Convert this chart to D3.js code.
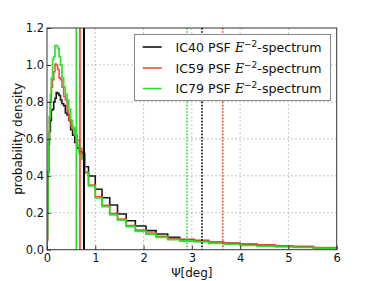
<!DOCTYPE html>
<html><head><meta charset="utf-8">
<script src="https://cdn.jsdelivr.net/npm/d3@7"></script>
<style>body{margin:0;background:#fff}svg{display:block}text{font-family:"DejaVu Sans",sans-serif}</style>
</head><body><svg id="c" width="374" height="281"></svg>
<script>
// bin edges (deg)
const binEdges = [0, 0.01, 0.02, 0.035, 0.05, 0.07, 0.09, 0.115, 0.14, 0.165, 0.19, 0.22, 0.25, 0.28, 0.31, 0.345, 0.38, 0.415, 0.45, 0.49, 0.53, 0.575, 0.62, 0.67, 0.72, 0.78, 0.86, 1.0, 1.14, 1.30, 1.46, 1.64, 1.83, 2.05, 2.26, 2.50, 2.75, 3.05, 3.35, 3.66, 4.0, 4.35, 4.73, 5.1, 5.52, 6.0];
const ic40 = [0.05, 0.22, 0.42, 0.57, 0.64, 0.70, 0.755, 0.76, 0.80, 0.82, 0.85, 0.845, 0.835, 0.81, 0.79, 0.78, 0.74, 0.73, 0.70, 0.65, 0.62, 0.58, 0.55, 0.53, 0.52, 0.449, 0.399, 0.327, 0.281, 0.242, 0.193, 0.157, 0.128, 0.103, 0.085, 0.067, 0.055, 0.05, 0.040, 0.035, 0.029, 0.024, 0.019, 0.016, 0.01];
const ic59 = [0.06, 0.25, 0.42, 0.6, 0.72, 0.80, 0.88, 0.92, 0.963, 1.005, 1.0, 0.975, 0.93, 0.92, 0.88, 0.83, 0.81, 0.75, 0.70, 0.67, 0.65, 0.62, 0.594, 0.549, 0.50, 0.42, 0.35, 0.287, 0.24, 0.196, 0.166, 0.131, 0.106, 0.09, 0.072, 0.06, 0.055, 0.05, 0.041, 0.036, 0.03, 0.026, 0.021, 0.018, 0.012];
const ic79 = [0.07, 0.2, 0.41, 0.6, 0.72, 0.84, 0.93, 1.03, 1.045, 1.104, 1.104, 1.09, 1.045, 1.0, 0.93, 0.88, 0.84, 0.81, 0.76, 0.70, 0.66, 0.62, 0.56, 0.52, 0.49, 0.414, 0.345, 0.281, 0.233, 0.188, 0.16, 0.125, 0.10, 0.085, 0.067, 0.055, 0.047, 0.043, 0.035, 0.03, 0.023, 0.019, 0.016, 0.013, 0.009];
const seriesNames = ["IC40", "IC59", "IC79"];
const seriesColors = ["#000000", "#e8442a", "#22e022"];
const medians = [0.766, 0.683, 0.607];      // solid vertical lines
const quantiles = [3.21, 3.64, 2.9];        // dotted vertical lines
const xTicks = [0, 1, 2, 3, 4, 5, 6];
const yTicks = [0.0, 0.2, 0.4, 0.6, 0.8, 1.0, 1.2];

const L = 47, T = 28, R = 336.7, B = 249.7;
const svg = d3.select("#c");
const x = d3.scaleLinear([0, 6], [L, R]);
const y = d3.scaleLinear([0, 1.2], [B, T]);

svg.append("defs").append("clipPath").attr("id", "clip")
  .append("rect").attr("x", L).attr("y", T).attr("width", R - L).attr("height", B - T);

// grid
const grid = svg.append("g").attr("stroke", "#b8b8b8").attr("stroke-width", 0.8).attr("stroke-dasharray", "2,2");
xTicks.slice(1, -1).forEach(t => grid.append("line").attr("x1", x(t)).attr("x2", x(t)).attr("y1", T).attr("y2", B));
yTicks.slice(1, -1).forEach(t => grid.append("line").attr("y1", y(t)).attr("y2", y(t)).attr("x1", L).attr("x2", R));

const plot = svg.append("g").attr("clip-path", "url(#clip)");
const data = [ic40, ic59, ic79];
const line = d3.line().x(d => x(d[0])).y(d => y(d[1]));
data.forEach((vals, k) => {
  const pts = [[binEdges[0], 0]];
  vals.forEach((v, i) => { pts.push([binEdges[i], v]); pts.push([binEdges[i + 1], v]); });
  pts.push([binEdges[binEdges.length - 1], 0]);
  plot.append("path").attr("d", line(pts)).attr("fill", "none")
    .attr("stroke", seriesColors[k]).attr("stroke-width", k === 2 ? 1.8 : 1.6).attr("stroke-opacity", 0.9);
});
medians.forEach((m, k) => plot.append("line").attr("x1", x(m)).attr("x2", x(m)).attr("y1", T).attr("y2", B)
  .attr("stroke", seriesColors[k]).attr("stroke-width", k === 0 ? 2 : 1.6));
quantiles.forEach((q, k) => plot.append("line").attr("x1", x(q)).attr("x2", x(q)).attr("y1", T).attr("y2", B)
  .attr("stroke", seriesColors[k]).attr("stroke-width", 1.6).attr("stroke-dasharray", "1.6,1.6"));

// frame and axes
const xa = svg.append("g").attr("transform", `translate(0,${B})`)
  .call(d3.axisBottom(x).tickValues(xTicks).tickFormat(d3.format("d")).tickSizeInner(-4).tickSizeOuter(0).tickPadding(4));
const ya = svg.append("g").attr("transform", `translate(${L},0)`)
  .call(d3.axisLeft(y).tickValues(yTicks).tickFormat(d3.format(".1f")).tickSizeInner(-4).tickSizeOuter(0).tickPadding(3));
[xa, ya].forEach(a => { a.select(".domain").remove(); a.selectAll("line").attr("stroke", "#333");
  a.selectAll("text").attr("font-size", 11.5).attr("fill", "#111").attr("font-family", "DejaVu Sans"); });
svg.append("rect").attr("x", L).attr("y", T).attr("width", R - L).attr("height", B - T)
  .attr("fill", "none").attr("stroke", "#333").attr("stroke-width", 1);

// labels
svg.append("text").attr("x", (L + R) / 2).attr("y", 277).attr("text-anchor", "middle").attr("font-size", 12).attr("fill", "#111").text("Ψ[deg]");
svg.append("text").attr("transform", `translate(22,${(T + B) / 2}) rotate(-90)`).attr("text-anchor", "middle")
  .attr("font-size", 12).attr("fill", "#111").text("probability density");

// legend
const lg = svg.append("g");
lg.append("rect").attr("x", 134.5).attr("y", 34.5).attr("width", 196).attr("height", 66).attr("fill", "#fff").attr("stroke", "#888").attr("stroke-width", 1);
const rowY = [47, 68, 88.5];
seriesNames.forEach((n, k) => {
  lg.append("line").attr("x1", 142.7).attr("x2", 161.7).attr("y1", rowY[k]).attr("y2", rowY[k]).attr("stroke", seriesColors[k]).attr("stroke-width", 1.5);
  const t = lg.append("text").attr("x", 175.5).attr("y", rowY[k] + 4.5).attr("font-size", 12.6).attr("fill", "#111");
  t.append("tspan").text(n + " PSF ");
  t.append("tspan").attr("font-family", "DejaVu Serif").attr("font-style", "italic").text("E");
  t.append("tspan").attr("font-size", 9).attr("dy", -5).text("−2");
  t.append("tspan").attr("dy", 5).text("-spectrum");
});
</script></body></html>
